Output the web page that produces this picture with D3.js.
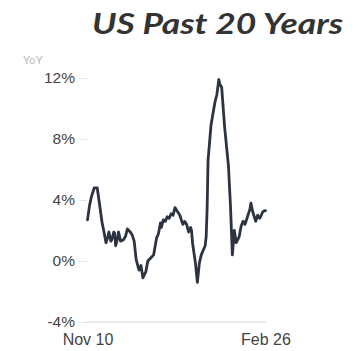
<!DOCTYPE html>
<html>
<head>
<meta charset="utf-8">
<script src="https://cdn.jsdelivr.net/npm/d3@7"></script>
<style>
html,body{margin:0;padding:0;background:#fff;}
svg{display:block;}
</style>
</head>
<body>
<svg id="chart" width="362" height="351"></svg>
<script>
const title = "US Past 20 Years";
const yAxisTitle = "YoY";
const yTicks = [-4, 0, 4, 8, 12];
const xTickDates = ["2010-11", "2026-02"];
const xTickLabels = ["Nov 10", "Feb 26"];

const dates = [
  "2010-11","2011-01","2011-03","2011-06","2011-09","2011-11","2012-02","2012-04","2012-06","2012-08","2012-09","2012-11","2012-12",
  "2013-02","2013-03","2013-04","2013-06","2013-07","2013-09","2013-12","2014-02","2014-04","2014-07","2014-09","2014-11",
  "2015-01","2015-04","2015-06","2015-08","2015-11","2016-01","2016-04","2016-07","2016-10","2016-12",
  "2017-02","2017-03","2017-05","2017-07","2017-09","2017-11","2018-01","2018-03","2018-05","2018-07","2018-10","2018-12",
  "2019-01","2019-03","2019-05","2019-07","2019-09","2019-10","2019-11","2020-02","2020-04","2020-06","2020-08","2020-10","2020-12",
  "2021-01","2021-02","2021-03","2021-06","2021-10","2021-12","2022-02","2022-03","2022-05","2022-08","2022-12","2023-02",
  "2023-04","2023-06","2023-08","2023-11","2024-01","2024-03","2024-05","2024-08","2024-10","2024-11","2025-01","2025-02",
  "2025-04","2025-06","2025-08","2025-09","2025-11","2026-01","2026-02"
];
const values = [
  2.7, 3.6, 4.2, 4.8, 4.8, 3.9, 2.5, 1.9, 1.2, 1.6, 1.9, 1.3, 1.4,
  1.9, 1.8, 1.0, 1.5, 1.9, 1.3, 1.4, 1.6, 2.1, 1.9, 1.7, 1.3,
  0.1, -0.6, -0.3, -1.1, -0.7, 0.0, 0.2, 0.4, 1.5, 1.8,
  2.5, 2.2, 2.7, 2.6, 2.9, 2.8, 3.1, 3.0, 3.5, 3.3, 3.0, 2.6,
  2.4, 2.6, 2.4, 1.9, 2.2, 2.0, 1.2, -0.15, -1.4, -0.15, 0.4, 0.7, 1.0,
  1.6, 3.5, 6.6, 8.9, 10.4, 10.9, 11.9, 11.6, 11.4, 8.8, 6.2, 3.6,
  0.4, 2.0, 1.2, 1.6, 2.3, 2.6, 2.4, 3.0, 3.4, 3.8, 3.2, 3.0,
  2.6, 3.0, 2.8, 2.9, 3.2, 3.3, 3.3
];

const parse = d3.timeParse("%Y-%m");
const data = dates.map((d, i) => ({date: parse(d), value: values[i]}));

const svg = d3.select("#chart");

const x = d3.scaleTime()
  .domain([parse(xTickDates[0]), parse(xTickDates[1])])
  .range([87.5, 265.5]);
const y = d3.scaleLinear().domain([-4, 12]).range([322, 78]);

// title
svg.append("text")
  .attr("x", 92).attr("y", 34)
  .attr("font-family", "Lato, 'Open Sans', sans-serif")
  .attr("font-weight", "bold").attr("font-style", "italic")
  .attr("font-size", 29)
  .attr("fill", "#333")
  .attr("textLength", 251).attr("lengthAdjust", "spacingAndGlyphs")
  .text(title);

// y axis title
svg.append("text")
  .attr("x", 23).attr("y", 64)
  .attr("font-family", "'Liberation Sans', Arial, sans-serif")
  .attr("font-size", 11)
  .attr("fill", "#b8b8b8")
  .text(yAxisTitle);

// baseline
svg.append("line")
  .attr("x1", 86).attr("x2", 266)
  .attr("y1", y(-4)).attr("y2", y(-4))
  .attr("stroke", "#ebebeb").attr("stroke-width", 2);

// y axis
const yAxis = d3.axisLeft(y)
  .tickValues(yTicks)
  .tickSize(8)
  .tickPadding(4)
  .tickFormat(d => d + "%");
const yg = svg.append("g").attr("transform", "translate(87,0)").call(yAxis);
yg.select(".domain").remove();
yg.selectAll(".tick line").attr("stroke", "#e6e6e6").attr("stroke-width", 1);
yg.selectAll(".tick text")
  .attr("font-family", "'Liberation Sans', Arial, sans-serif")
  .attr("font-size", 15.5)
  .attr("fill", "#444");

// x axis
const xAxis = d3.axisBottom(x)
  .tickValues(xTickDates.map(parse))
  .tickSize(0)
  .tickPadding(0)
  .tickFormat((d, i) => xTickLabels[i]);
const xg = svg.append("g").attr("transform", "translate(0,334)").call(xAxis);
xg.select(".domain").remove();
xg.selectAll(".tick text")
  .attr("dy", "0.71em")
  .attr("font-family", "'Liberation Sans', Arial, sans-serif")
  .attr("font-size", 16)
  .attr("fill", "#444");

// line
const line = d3.line()
  .x(d => x(d.date))
  .y(d => y(d.value));
svg.append("path")
  .datum(data)
  .attr("d", line)
  .attr("fill", "none")
  .attr("stroke", "#2c3341")
  .attr("stroke-width", 2.8)
  .attr("stroke-linejoin", "round")
  .attr("stroke-linecap", "round");
</script>
</body>
</html>
